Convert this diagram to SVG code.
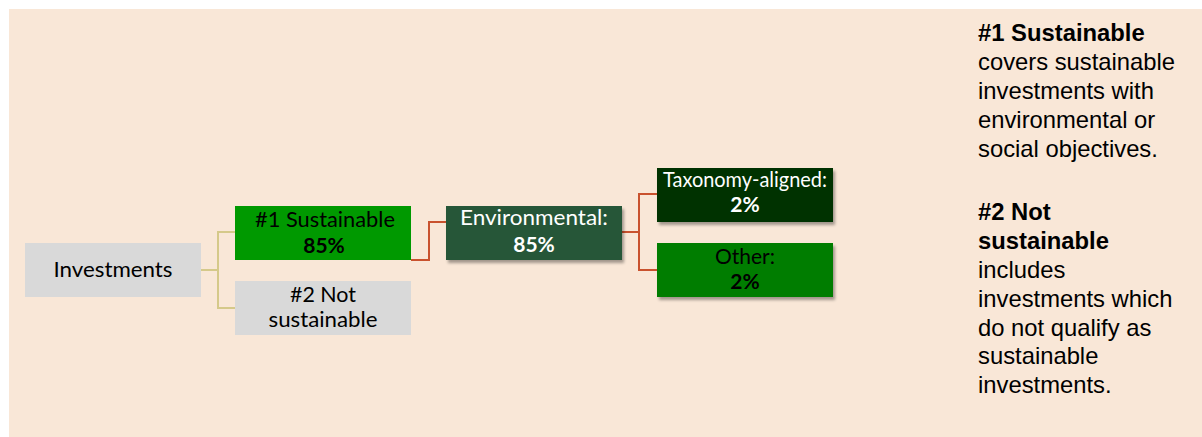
<svg xmlns="http://www.w3.org/2000/svg" width="1202" height="437" viewBox="0 0 1202 437">
<style>
.bx{font-family:Lato,"Open Sans",sans-serif;font-size:21px;text-anchor:middle}
.b{font-weight:bold}
.w{fill:#ffffff}
.k{fill:#000000}
.side{font-family:"Liberation Sans",Arial,sans-serif;font-size:23.8px;fill:#000000}
.cy{fill:none;stroke:#D5C98A;stroke-width:2}
.cr{fill:none;stroke:#C9522E;stroke-width:2}
</style>
<defs>
<filter id="sh" x="-10%" y="-20%" width="125%" height="150%">
<feDropShadow dx="2" dy="3" stdDeviation="1.5" flood-color="#000000" flood-opacity="0.35"/>
</filter>
</defs>
<rect x="0" y="0" width="1202" height="437" fill="#ffffff"/>
<rect x="9" y="9" width="1193" height="428" fill="#F9E7D7"/>
<g id="connectors">
<polyline class="cy" points="201,270 218,270"/>
<polyline class="cy" points="235,232 218,232 218,308 235,308"/>
<polyline class="cr" points="411,260 429,260 429,222 446,222"/>
<polyline class="cr" points="622,232 639,232"/>
<polyline class="cr" points="657,194 639,194 639,270 657,270"/>
</g>
<g id="investments">
<rect x="25" y="243" width="176" height="54" fill="#D9D9D9"/>
<text class="bx k" x="113" y="277" textLength="119" lengthAdjust="spacingAndGlyphs">Investments</text>
</g>
<g id="sustainable">
<rect x="235" y="206" width="176" height="54" fill="#009900"/>
<text class="bx k" x="325" y="227" textLength="140" lengthAdjust="spacingAndGlyphs">#1 Sustainable</text>
<text class="bx k b" x="324" y="253">85%</text>
</g>
<g id="not-sustainable">
<rect x="235" y="281" width="176" height="54" fill="#D9D9D9"/>
<text class="bx k" x="323" y="302" textLength="66" lengthAdjust="spacingAndGlyphs">#2 Not</text>
<text class="bx k" x="323" y="327" textLength="109" lengthAdjust="spacingAndGlyphs">sustainable</text>
</g>
<g id="environmental">
<rect x="446" y="206" width="176" height="54" fill="#255739" filter="url(#sh)"/>
<text class="bx w" x="534" y="225" textLength="148" lengthAdjust="spacingAndGlyphs">Environmental:</text>
<text class="bx w b" x="534" y="252">85%</text>
</g>
<g id="taxonomy">
<rect x="657" y="168" width="176" height="54" fill="#013300" filter="url(#sh)"/>
<text class="bx w" x="745" y="187" textLength="164" lengthAdjust="spacingAndGlyphs">Taxonomy-aligned:</text>
<text class="bx w b" x="745" y="212">2%</text>
</g>
<g id="other">
<rect x="657" y="243" width="176" height="54" fill="#007D00" filter="url(#sh)"/>
<text class="bx k" x="745" y="264">Other:</text>
<text class="bx k b" x="745" y="289">2%</text>
</g>
<g id="legend">
<text class="side b" x="978" y="41">#1 Sustainable</text>
<text class="side" x="978" y="70">covers sustainable</text>
<text class="side" x="978" y="99">investments with</text>
<text class="side" x="978" y="128">environmental or</text>
<text class="side" x="978" y="157">social objectives.</text>
<text class="side b" x="978" y="220">#2 Not</text>
<text class="side b" x="978" y="249">sustainable</text>
<text class="side" x="978" y="278">includes</text>
<text class="side" x="978" y="307">investments which</text>
<text class="side" x="978" y="336">do not qualify as</text>
<text class="side" x="978" y="364">sustainable</text>
<text class="side" x="978" y="393">investments.</text>
</g>
</svg>
